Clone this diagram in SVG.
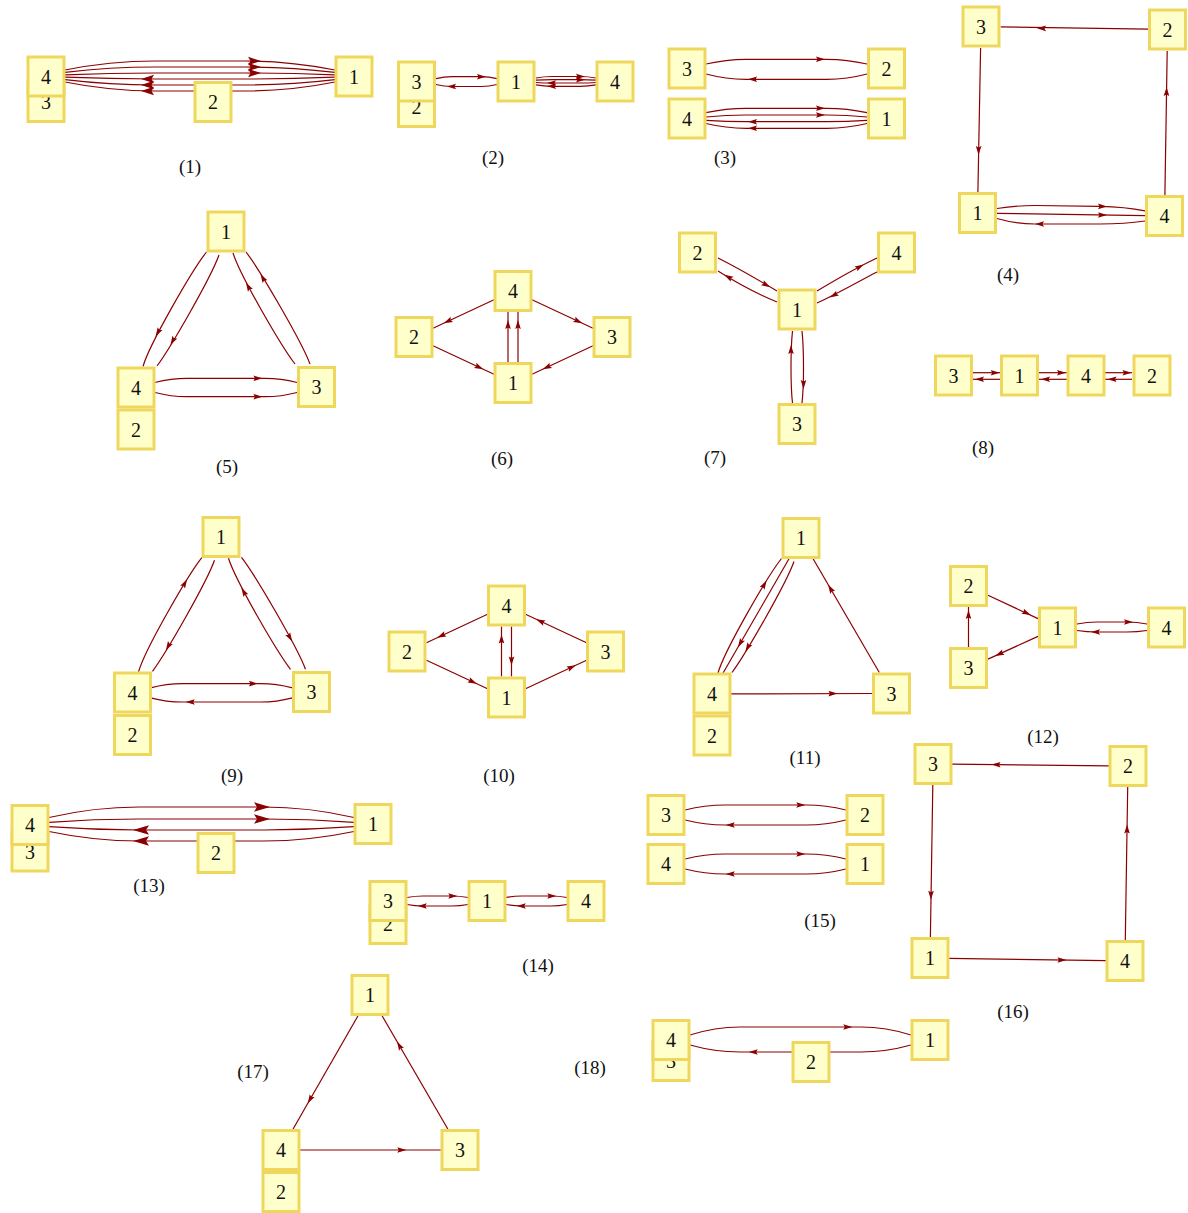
<svg xmlns="http://www.w3.org/2000/svg" width="1188" height="1213" viewBox="0 0 1188 1213">
<style>
.e{fill:none;stroke:#8b0000;stroke-width:1.2}
.a{fill:#8b0000}
.n rect{fill:#ffffcc;stroke:#efd75e;stroke-width:3}
.n text{font-family:"Liberation Serif",serif;font-size:20px;text-anchor:middle;fill:#111}
.lb{font-family:"Liberation Serif",serif;font-size:19px;text-anchor:middle;fill:#111}
</style>
<defs>
<path id="s" d="M0,0 L-9,-2.8 L-7.5,0 L-9,2.8 Z"/>
<path id="b" d="M0,0 L-13,-4.2 L-10.5,0 L-13,4.2 Z"/>
<path id="B" d="M0,0 L-16,-4.8 L-13,0 L-16,4.8 Z"/>
</defs>
<rect width="1188" height="1213" fill="#fff"/>
<g id="connectors">
<!-- graph 1 -->
<path class="e" d="M65,70 Q110,61 155,61 L245,61 Q290,61 335,70"/>
<path class="e" d="M65,72.4 Q110,67 155,67 L245,67 Q290,67 335,72.4"/>
<path class="e" d="M65,74.8 Q110,73 155,73 L245,73 Q290,73 335,74.8"/>
<path class="e" d="M335,77.2 Q290,79 245,79 L155,79 Q110,79 65,77.2"/>
<path class="e" d="M335,79.6 Q290,85 245,85 L155,85 Q110,85 65,79.6"/>
<path class="e" d="M335,82 Q290,91 245,91 L155,91 Q110,91 65,82"/>
<use href="#b" class="a" transform="translate(261,61)"/>
<use href="#b" class="a" transform="translate(261,67)"/>
<use href="#b" class="a" transform="translate(261,73)"/>
<use href="#b" class="a" transform="translate(141,79) rotate(180)"/>
<use href="#b" class="a" transform="translate(141,85) rotate(180)"/>
<use href="#b" class="a" transform="translate(141,91) rotate(180)"/>
<!-- graph 2 -->
<path class="e" d="M436,78.6 Q444,76.7 452,76.7 L481,76.7 Q489,76.7 497,78.6"/>
<path class="e" d="M497,84.5 Q489,86.5 481,86.5 L452,86.5 Q444,86.5 436,84.5"/>
<path class="e" d="M536,78 Q544,76.5 552,76.5 L580,76.5 Q588,76.5 596,78"/>
<path class="e" d="M536,80.2 Q544,79.7 552,79.7 L580,79.7 Q588,79.7 596,80.2"/>
<path class="e" d="M596,82.5 Q588,83 580,83 L552,83 Q544,83 536,82.5"/>
<path class="e" d="M596,84.9 Q588,86.3 580,86.3 L552,86.3 Q544,86.3 536,84.9"/>
<use href="#s" class="a" transform="translate(486,76.7)"/>
<use href="#s" class="a" transform="translate(447,86.5) rotate(180)"/>
<use href="#s" class="a" transform="translate(585,76.5)"/>
<use href="#s" class="a" transform="translate(585,79.7)"/>
<use href="#s" class="a" transform="translate(547,83) rotate(180)"/>
<use href="#s" class="a" transform="translate(547,86.3) rotate(180)"/>
<!-- graph 3 -->
<path class="e" d="M706,64 Q726,59.3 746,59.3 L827,59.3 Q847,59.3 867,64"/>
<path class="e" d="M867,74 Q847,79.3 827,79.3 L746,79.3 Q726,79.3 706,74"/>
<path class="e" d="M706,112.7 Q726,108.3 746,108.3 L827,108.3 Q847,108.3 867,112.7"/>
<path class="e" d="M706,117 Q726,115 746,115 L827,115 Q847,115 867,117"/>
<path class="e" d="M867,120.3 Q847,121.7 827,121.7 L746,121.7 Q726,121.7 706,120.3"/>
<path class="e" d="M867,123.5 Q847,128.3 827,128.3 L746,128.3 Q726,128.3 706,123.5"/>
<use href="#s" class="a" transform="translate(825,59.3)"/>
<use href="#s" class="a" transform="translate(748,79.3) rotate(180)"/>
<use href="#s" class="a" transform="translate(825,108.3)"/>
<use href="#s" class="a" transform="translate(825,115)"/>
<use href="#s" class="a" transform="translate(748,121.7) rotate(180)"/>
<use href="#s" class="a" transform="translate(748,128.3) rotate(180)"/>
<!-- graph 4 -->
<path class="e" d="M1148,29.2 L1000.7,26.8"/>
<path class="e" d="M980.6,48 L977.9,192"/>
<path class="e" d="M1164.9,195 L1167.2,51"/>
<path class="e" d="M997,208.5 Q1016,205.5 1035,205.5 L1100,206.3 Q1125,206.8 1145,210.8"/>
<path class="e" d="M997,213.3 L1145,215.7"/>
<path class="e" d="M1145,221 Q1125,223.8 1100,224 L1035,224 Q1016,224 997,218.5"/>
<use href="#s" class="a" transform="translate(1037,28.2) rotate(180.9)"/>
<use href="#s" class="a" transform="translate(978.5,155) rotate(91.1)"/>
<use href="#s" class="a" transform="translate(1166.6,87) rotate(-89.1)"/>
<use href="#s" class="a" transform="translate(1107,206.4)"/>
<use href="#s" class="a" transform="translate(1107,215.1) rotate(0.9)"/>
<use href="#s" class="a" transform="translate(1035,224) rotate(180)"/>
<!-- graph 5 -->
<path class="e" d="M206.5,252 C192.3,269.8 149.3,344.4 143,366.5"/>
<path class="e" d="M219,255 C210.7,278.1 170.7,347.4 157,366"/>
<path class="e" d="M295,364 C281.3,346.2 240,275.4 233,253"/>
<path class="e" d="M310,364 C302,342.3 259.8,269.7 246,252"/>
<path class="e" d="M155,382.5 Q171,378.3 187,378.3 L265,378.3 Q281,378.3 297,382.5"/>
<path class="e" d="M155,392.5 Q171,396.7 187,396.7 L265,396.7 Q281,396.7 297,392.5"/>
<use href="#s" class="a" transform="translate(155.6,336.5) rotate(120)"/>
<use href="#s" class="a" transform="translate(170.4,345) rotate(120)"/>
<use href="#s" class="a" transform="translate(245.9,282.5) rotate(240)"/>
<use href="#s" class="a" transform="translate(260.5,273.9) rotate(240)"/>
<use href="#s" class="a" transform="translate(262.4,378.3)"/>
<use href="#s" class="a" transform="translate(262.4,396.7)"/>
<!-- graph 6 -->
<path class="e" d="M494,299.8 L433,328.2"/>
<path class="e" d="M433,345.8 L494,374.2"/>
<path class="e" d="M532,299.8 L593,328.2"/>
<path class="e" d="M593,345.8 L532,374.2"/>
<path class="e" d="M508,362 L508,312"/>
<path class="e" d="M518,362 L518,312"/>
<use href="#s" class="a" transform="translate(443.7,323.2) rotate(155.1)"/>
<use href="#s" class="a" transform="translate(483.3,369.2) rotate(24.9)"/>
<use href="#s" class="a" transform="translate(582.3,323.2) rotate(24.9)"/>
<use href="#s" class="a" transform="translate(542.7,369.2) rotate(155.1)"/>
<use href="#s" class="a" transform="translate(508,320) rotate(-90)"/>
<use href="#s" class="a" transform="translate(518,320) rotate(-90)"/>
<!-- graph 7 -->
<path class="e" d="M718,258 C735.4,266.8 761.4,281.7 777,291"/>
<path class="e" d="M777,302 C755,292.9 729,278 718,271"/>
<path class="e" d="M817,291 C832.8,281.5 858.9,266.6 877,258"/>
<path class="e" d="M877,272 C865.3,277.8 834.9,295.2 817,303"/>
<path class="e" d="M792.5,403 C790.5,385 790.5,350 792.5,331"/>
<path class="e" d="M802,331 C804,350 804,385 802,403"/>
<use href="#s" class="a" transform="translate(770.2,287.2) rotate(29.8)"/>
<use href="#s" class="a" transform="translate(724.3,274.8) rotate(209.8)"/>
<use href="#s" class="a" transform="translate(863.7,264.4) rotate(-29.8)"/>
<use href="#s" class="a" transform="translate(829.8,297.6) rotate(150.2)"/>
<use href="#s" class="a" transform="translate(791,345) rotate(-90)"/>
<use href="#s" class="a" transform="translate(803.5,389) rotate(90)"/>
<!-- graph 8 -->
<path class="e" d="M973,372.7 L1000,372.7"/>
<path class="e" d="M1000,379.3 L973,379.3"/>
<path class="e" d="M1039,372.7 L1067,372.7"/>
<path class="e" d="M1067,379.3 L1039,379.3"/>
<path class="e" d="M1105,372.7 L1132,372.7"/>
<path class="e" d="M1132,379.3 L1105,379.3"/>
<use href="#s" class="a" transform="translate(999.7,372.7)"/>
<use href="#s" class="a" transform="translate(975,379.3) rotate(180)"/>
<use href="#s" class="a" transform="translate(1066,372.7)"/>
<use href="#s" class="a" transform="translate(1041,379.3) rotate(180)"/>
<use href="#s" class="a" transform="translate(1131.5,372.7)"/>
<use href="#s" class="a" transform="translate(1107.5,379.3) rotate(180)"/>
<!-- graph 9 -->
<g transform="translate(-4.5,305.3)">
<path class="e" d="M143,366.5 C149.3,344.4 192.3,269.8 206.5,252"/>
<path class="e" d="M219,255 C210.7,278.1 170.7,347.4 157,366"/>
<path class="e" d="M295,364 C281.3,346.2 240,275.4 233,253"/>
<path class="e" d="M246,252 C259.8,269.7 302,342.3 310,364"/>
<path class="e" d="M155,382.5 Q171,378.3 187,378.3 L265,378.3 Q281,378.3 297,382.5"/>
<path class="e" d="M297,392.5 Q281,396.7 265,396.7 L187,396.7 Q171,396.7 155,392.5"/>
<use href="#s" class="a" transform="translate(191.6,274.05) rotate(-60)"/>
<use href="#s" class="a" transform="translate(170.4,345) rotate(120)"/>
<use href="#s" class="a" transform="translate(245.9,282.5) rotate(240)"/>
<use href="#s" class="a" transform="translate(296.7,336.1) rotate(60)"/>
<use href="#s" class="a" transform="translate(262.4,378.3)"/>
<use href="#s" class="a" transform="translate(190.2,396.7) rotate(180)"/>
</g>
<!-- graph 10 -->
<g transform="translate(-6.5,314.5)">
<path class="e" d="M494,299.8 L433,328.2"/>
<path class="e" d="M433,345.8 L494,374.2"/>
<path class="e" d="M593,328.2 L532,299.8"/>
<path class="e" d="M532,374.2 L593,345.8"/>
<path class="e" d="M508,362 L508,312"/>
<path class="e" d="M518,312 L518,362"/>
<use href="#s" class="a" transform="translate(443.7,323.2) rotate(155.1)"/>
<use href="#s" class="a" transform="translate(483.3,369.2) rotate(24.9)"/>
<use href="#s" class="a" transform="translate(542.7,304.8) rotate(204.9)"/>
<use href="#s" class="a" transform="translate(582.3,350.8) rotate(-24.9)"/>
<use href="#s" class="a" transform="translate(508,320) rotate(-90)"/>
<use href="#s" class="a" transform="translate(518,351) rotate(90)"/>
</g>
<!-- graph 11 -->
<g transform="translate(575,306.5)">
<path class="e" d="M143,366.5 C149.3,344.4 192.3,269.8 206.5,252"/>
<path class="e" d="M214,252.3 L147.8,367"/>
<path class="e" d="M219,255 C210.7,278.1 170.7,347.4 157,366"/>
<path class="e" d="M304.3,366 L238.1,252.3"/>
<path class="e" d="M155,387.4 L297,387"/>
<use href="#s" class="a" transform="translate(191.6,274.05) rotate(-60)"/>
<use href="#s" class="a" transform="translate(163,340.7) rotate(120)"/>
<use href="#s" class="a" transform="translate(170.4,345) rotate(120)"/>
<use href="#s" class="a" transform="translate(253.2,278.2) rotate(240)"/>
<use href="#s" class="a" transform="translate(262.4,387.1)"/>
</g>
<!-- graph 12 -->
<path class="e" d="M988,595.3 L1038,618.6"/>
<path class="e" d="M1038,636.4 L988,659.1"/>
<path class="e" d="M968.5,647 L968.5,607"/>
<path class="e" d="M1077,624 Q1087,622 1097,622 L1127,622 Q1137,622 1147,624"/>
<path class="e" d="M1147,630.5 Q1137,632 1127,632 L1097,632 Q1087,632 1077,630.5"/>
<use href="#s" class="a" transform="translate(1030.8,615) rotate(25)"/>
<use href="#s" class="a" transform="translate(995.2,655.9) rotate(155.5)"/>
<use href="#s" class="a" transform="translate(968.5,610) rotate(-90)"/>
<use href="#s" class="a" transform="translate(1133,622)"/>
<use href="#s" class="a" transform="translate(1091,632) rotate(180)"/>
<!-- graph 13 -->
<path class="e" d="M49,817.5 Q94,807 139,807 L264,807 Q309,807 354,817.5"/>
<path class="e" d="M49,822.3 Q94,819 139,819 L264,819 Q309,819 354,822.3"/>
<path class="e" d="M354,826.7 Q309,830 264,830 L139,830 Q94,830 49,826.7"/>
<path class="e" d="M354,831.5 Q309,841 264,841 L139,841 Q94,841 49,831.5"/>
<use href="#B" class="a" transform="translate(270,807)"/>
<use href="#B" class="a" transform="translate(270,819)"/>
<use href="#B" class="a" transform="translate(133,830) rotate(180)"/>
<use href="#B" class="a" transform="translate(133,841) rotate(180)"/>
<!-- graph 14 -->
<path class="e" d="M407,897.5 Q415,896 423,896 L452,896 Q460,896 468,897.5"/>
<path class="e" d="M468,904.5 Q460,906 452,906 L423,906 Q415,906 407,904.5"/>
<path class="e" d="M506,897.5 Q514,896 522,896 L551,896 Q559,896 567,897.5"/>
<path class="e" d="M567,904.5 Q559,906 551,906 L522,906 Q514,906 506,904.5"/>
<use href="#s" class="a" transform="translate(457.3,896)"/>
<use href="#s" class="a" transform="translate(417.7,906) rotate(180)"/>
<use href="#s" class="a" transform="translate(556.3,896)"/>
<use href="#s" class="a" transform="translate(516.7,906) rotate(180)"/>
<!-- graph 15 -->
<path class="e" d="M685,810 Q705,805 725,805 L806,805 Q826,805 846,810"/>
<path class="e" d="M846,820 Q826,825 806,825 L725,825 Q705,825 685,820"/>
<path class="e" d="M685,859 Q705,854 725,854 L806,854 Q826,854 846,859"/>
<path class="e" d="M846,869 Q826,874 806,874 L725,874 Q705,874 685,869"/>
<use href="#s" class="a" transform="translate(805.3,805)"/>
<use href="#s" class="a" transform="translate(725.7,825) rotate(180)"/>
<use href="#s" class="a" transform="translate(805.3,854)"/>
<use href="#s" class="a" transform="translate(725.7,874) rotate(180)"/>
<!-- graph 16 -->
<path class="e" d="M1109,765.8 L952,764.2"/>
<path class="e" d="M932.8,785 L930.4,937"/>
<path class="e" d="M949,958.3 L1106,960.7"/>
<path class="e" d="M1125.3,940 L1127.7,787"/>
<use href="#s" class="a" transform="translate(991.5,764.6) rotate(180.5)"/>
<use href="#s" class="a" transform="translate(930.9,899.8) rotate(90.9)"/>
<use href="#s" class="a" transform="translate(1066.5,960.1) rotate(0.7)"/>
<use href="#s" class="a" transform="translate(1127.1,824.5) rotate(-89.3)"/>
<!-- graph 17 -->
<path class="e" d="M357.9,1016 L293.1,1129"/>
<path class="e" d="M447.8,1129 L382.2,1016"/>
<path class="e" d="M300,1150 L441,1150"/>
<use href="#s" class="a" transform="translate(307.7,1103.5) rotate(119.9)"/>
<use href="#s" class="a" transform="translate(397,1041.5) rotate(239.9)"/>
<use href="#s" class="a" transform="translate(406.3,1150)"/>
<!-- graph 18 -->
<path class="e" d="M690,1035 Q715,1027 740,1027 L861,1027 Q886,1027 911,1035"/>
<path class="e" d="M911,1045 Q886,1052 861,1052 L740,1052 Q715,1052 690,1045"/>
<use href="#s" class="a" transform="translate(852.3,1027)"/>
<use href="#s" class="a" transform="translate(748.7,1052) rotate(180)"/>
</g>
<g id="nodes">
<g id="g1-n3" class="n"><rect x="28" y="82.5" width="36" height="39"/><text x="46" y="109">3</text></g>
<g id="g1-n4" class="n"><rect x="28" y="57" width="36" height="39"/><text x="46" y="83.5">4</text></g>
<g id="g1-n1" class="n"><rect x="336" y="57" width="36" height="39"/><text x="354" y="83.5">1</text></g>
<g id="g1-n2" class="n"><rect x="195" y="82.5" width="36" height="39"/><text x="213" y="109">2</text></g>

<g id="g2-n2" class="n"><rect x="398.5" y="87.5" width="36" height="39"/><text x="416.5" y="114">2</text></g>
<g id="g2-n3" class="n"><rect x="398.5" y="62" width="36" height="39"/><text x="416.5" y="88.5">3</text></g>
<g id="g2-n1" class="n"><rect x="498" y="62" width="36" height="39"/><text x="516" y="88.5">1</text></g>
<g id="g2-n4" class="n"><rect x="597" y="62" width="36" height="39"/><text x="615" y="88.5">4</text></g>

<g id="g3-n3" class="n"><rect x="669" y="49" width="36" height="39"/><text x="687" y="75.5">3</text></g>
<g id="g3-n2" class="n"><rect x="868.5" y="49" width="36" height="39"/><text x="886.5" y="75.5">2</text></g>
<g id="g3-n4" class="n"><rect x="669" y="99" width="36" height="39"/><text x="687" y="125.5">4</text></g>
<g id="g3-n1" class="n"><rect x="868.5" y="99" width="36" height="39"/><text x="886.5" y="125.5">1</text></g>

<g id="g4-n3" class="n"><rect x="963" y="7" width="36" height="39"/><text x="981" y="33.5">3</text></g>
<g id="g4-n2" class="n"><rect x="1149.5" y="10" width="36" height="39"/><text x="1167.5" y="36.5">2</text></g>
<g id="g4-n1" class="n"><rect x="959.5" y="193.5" width="36" height="39"/><text x="977.5" y="220">1</text></g>
<g id="g4-n4" class="n"><rect x="1146.5" y="196.5" width="36" height="39"/><text x="1164.5" y="223">4</text></g>

<g id="g5-n2" class="n"><rect x="118" y="410" width="36" height="39"/><text x="136" y="436.5">2</text></g>
<g id="g5-n4" class="n"><rect x="118" y="368" width="36" height="39"/><text x="136" y="394.5">4</text></g>
<g id="g5-n1" class="n"><rect x="208" y="212" width="36" height="39"/><text x="226" y="238.5">1</text></g>
<g id="g5-n3" class="n"><rect x="298.5" y="367.5" width="36" height="39"/><text x="316.5" y="394">3</text></g>

<g id="g6-n4" class="n"><rect x="495" y="271.5" width="36" height="39"/><text x="513" y="298">4</text></g>
<g id="g6-n2" class="n"><rect x="396" y="317.5" width="36" height="39"/><text x="414" y="344">2</text></g>
<g id="g6-n3" class="n"><rect x="594" y="317.5" width="36" height="39"/><text x="612" y="344">3</text></g>
<g id="g6-n1" class="n"><rect x="495" y="363.5" width="36" height="39"/><text x="513" y="390">1</text></g>

<g id="g7-n2" class="n"><rect x="679.5" y="233" width="36" height="39"/><text x="697.5" y="259.5">2</text></g>
<g id="g7-n4" class="n"><rect x="878.5" y="233" width="36" height="39"/><text x="896.5" y="259.5">4</text></g>
<g id="g7-n1" class="n"><rect x="779" y="290" width="36" height="39"/><text x="797" y="316.5">1</text></g>
<g id="g7-n3" class="n"><rect x="779" y="404.5" width="36" height="39"/><text x="797" y="431">3</text></g>

<g id="g8-n3" class="n"><rect x="935.5" y="356" width="36" height="39"/><text x="953.5" y="382.5">3</text></g>
<g id="g8-n1" class="n"><rect x="1001.5" y="356" width="36" height="39"/><text x="1019.5" y="382.5">1</text></g>
<g id="g8-n4" class="n"><rect x="1068" y="356" width="36" height="39"/><text x="1086" y="382.5">4</text></g>
<g id="g8-n2" class="n"><rect x="1134" y="356" width="36" height="39"/><text x="1152" y="382.5">2</text></g>

<g id="g9-n2" class="n"><rect x="114.5" y="715.5" width="36" height="39"/><text x="132.5" y="742">2</text></g>
<g id="g9-n4" class="n"><rect x="114.5" y="673" width="36" height="39"/><text x="132.5" y="699.5">4</text></g>
<g id="g9-n1" class="n"><rect x="203" y="517.5" width="36" height="39"/><text x="221" y="544">1</text></g>
<g id="g9-n3" class="n"><rect x="293.5" y="672.5" width="36" height="39"/><text x="311.5" y="699">3</text></g>

<g id="g10-n4" class="n"><rect x="488.5" y="586" width="36" height="39"/><text x="506.5" y="612.5">4</text></g>
<g id="g10-n2" class="n"><rect x="389" y="632" width="36" height="39"/><text x="407" y="658.5">2</text></g>
<g id="g10-n3" class="n"><rect x="587.5" y="632" width="36" height="39"/><text x="605.5" y="658.5">3</text></g>
<g id="g10-n1" class="n"><rect x="488.5" y="678" width="36" height="39"/><text x="506.5" y="704.5">1</text></g>

<g id="g11-n2" class="n"><rect x="694" y="716" width="36" height="39"/><text x="712" y="742.5">2</text></g>
<g id="g11-n4" class="n"><rect x="694" y="674" width="36" height="39"/><text x="712" y="700.5">4</text></g>
<g id="g11-n1" class="n"><rect x="783" y="518.5" width="36" height="39"/><text x="801" y="545">1</text></g>
<g id="g11-n3" class="n"><rect x="873.5" y="674" width="36" height="39"/><text x="891.5" y="700.5">3</text></g>

<g id="g12-n2" class="n"><rect x="950.5" y="566.5" width="36" height="39"/><text x="968.5" y="593">2</text></g>
<g id="g12-n3" class="n"><rect x="950.5" y="648.5" width="36" height="39"/><text x="968.5" y="675">3</text></g>
<g id="g12-n1" class="n"><rect x="1039.5" y="608" width="36" height="39"/><text x="1057.5" y="634.5">1</text></g>
<g id="g12-n4" class="n"><rect x="1148.5" y="608" width="36" height="39"/><text x="1166.5" y="634.5">4</text></g>

<g id="g13-n3" class="n"><rect x="12" y="832" width="36" height="39"/><text x="30" y="858.5">3</text></g>
<g id="g13-n4" class="n"><rect x="12" y="805.5" width="36" height="39"/><text x="30" y="832">4</text></g>
<g id="g13-n1" class="n"><rect x="355" y="804.5" width="36" height="39"/><text x="373" y="831">1</text></g>
<g id="g13-n2" class="n"><rect x="198" y="833.5" width="36" height="39"/><text x="216" y="860">2</text></g>

<g id="g14-n2" class="n"><rect x="370" y="904.5" width="36" height="39"/><text x="388" y="931">2</text></g>
<g id="g14-n3" class="n"><rect x="370" y="881.5" width="36" height="39"/><text x="388" y="908">3</text></g>
<g id="g14-n1" class="n"><rect x="469" y="881.5" width="36" height="39"/><text x="487" y="908">1</text></g>
<g id="g14-n4" class="n"><rect x="568" y="881.5" width="36" height="39"/><text x="586" y="908">4</text></g>

<g id="g15-n3" class="n"><rect x="648" y="795.5" width="36" height="39"/><text x="666" y="822">3</text></g>
<g id="g15-n2" class="n"><rect x="847" y="795.5" width="36" height="39"/><text x="865" y="822">2</text></g>
<g id="g15-n4" class="n"><rect x="648" y="844.5" width="36" height="39"/><text x="666" y="871">4</text></g>
<g id="g15-n1" class="n"><rect x="847" y="844.5" width="36" height="39"/><text x="865" y="871">1</text></g>

<g id="g16-n3" class="n"><rect x="915" y="744.5" width="36" height="39"/><text x="933" y="771">3</text></g>
<g id="g16-n2" class="n"><rect x="1110" y="746.5" width="36" height="39"/><text x="1128" y="773">2</text></g>
<g id="g16-n1" class="n"><rect x="912" y="938.5" width="36" height="39"/><text x="930" y="965">1</text></g>
<g id="g16-n4" class="n"><rect x="1107" y="941.5" width="36" height="39"/><text x="1125" y="968">4</text></g>

<g id="g17-n1" class="n"><rect x="352" y="975.5" width="36" height="39"/><text x="370" y="1002">1</text></g>
<g id="g17-n4" class="n"><rect x="263" y="1130.5" width="36" height="39"/><text x="281" y="1157">4</text></g>
<g id="g17-n2" class="n"><rect x="263" y="1172.5" width="36" height="39"/><text x="281" y="1199">2</text></g>
<g id="g17-n3" class="n"><rect x="442" y="1130.5" width="36" height="39"/><text x="460" y="1157">3</text></g>

<g id="g18-n3" class="n"><rect x="653" y="1041.5" width="36" height="39"/><text x="671" y="1068">3</text></g>
<g id="g18-n4" class="n"><rect x="653" y="1020.5" width="36" height="39"/><text x="671" y="1047">4</text></g>
<g id="g18-n1" class="n"><rect x="912" y="1020.5" width="36" height="39"/><text x="930" y="1047">1</text></g>
<g id="g18-n2" class="n"><rect x="793" y="1042.5" width="36" height="39"/><text x="811" y="1069">2</text></g>
</g>
<g id="labels">
<text class="lb" x="190" y="173">(1)</text>
<text class="lb" x="493" y="164">(2)</text>
<text class="lb" x="725" y="164">(3)</text>
<text class="lb" x="1008" y="281">(4)</text>
<text class="lb" x="227" y="473">(5)</text>
<text class="lb" x="502" y="465">(6)</text>
<text class="lb" x="715" y="464">(7)</text>
<text class="lb" x="983" y="454">(8)</text>
<text class="lb" x="232" y="782">(9)</text>
<text class="lb" x="499" y="782">(10)</text>
<text class="lb" x="805" y="764">(11)</text>
<text class="lb" x="1043" y="743">(12)</text>
<text class="lb" x="149" y="892">(13)</text>
<text class="lb" x="538" y="972">(14)</text>
<text class="lb" x="820" y="927">(15)</text>
<text class="lb" x="1013" y="1018">(16)</text>
<text class="lb" x="253" y="1078">(17)</text>
<text class="lb" x="590" y="1074">(18)</text>
</g>
</svg>
